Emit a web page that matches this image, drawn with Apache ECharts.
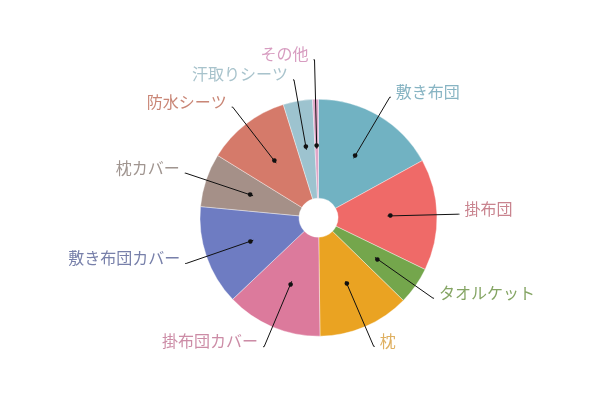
<!DOCTYPE html>
<html>
<head>
<meta charset="utf-8">
<script src="https://cdn.jsdelivr.net/npm/echarts@6/dist/echarts.min.js"></script>
<style>
html,body{margin:0;padding:0;background:#fff;}
#chart{width:603px;height:416px;}
</style>
</head>
<body>
<div id="chart"></div>
<script>
var categories = ['敷き布団','掛布団','タオルケット','枕','掛布団カバー','敷き布団カバー','枕カバー','防水シーツ','汗取りシーツ','その他'];
var values = [17.0, 15.2, 5.1, 12.5, 13.1, 13.6, 7.3, 11.4, 4.0, 0.8];
var sliceColors = ['#71b2c2','#ef6a68','#74a64c','#eaa322','#dc7a9c','#6e7cc2','#a59088','#d57a6a','#9dc3cf','#e0a6c8'];
var labelColors = ['#87b4c3','#c9848f','#85a564','#dfb061','#cc8ca6','#7880aa','#a09590','#c98676','#a8c3cc','#d79cc0'];
var lineLengths = [71, 71, 71, 71, 71, 71, 71, 71, 71, 89];

var chart = echarts.init(document.getElementById('chart'), null, {renderer:'canvas'});
var CX = 318.5, CY = 217.7, R0 = 19.5, R1 = 118.5, RM = (R0 + R1) / 2;

var mainData = categories.map(function(c, i){
  return {name: c, value: values[i], itemStyle: {color: sliceColors[i]}};
});
var overlayData = categories.map(function(c, i){
  return {
    name: c, value: values[i],
    itemStyle: {color: 'rgba(0,0,0,0)'},
    label: {rich: {n: {color: labelColors[i], fontSize: 16, lineHeight: 16,
      fontFamily: '"Noto Sans CJK JP", sans-serif'}}},
    labelLine: {length: lineLengths[i]}
  };
});

chart.setOption({
  animation: false,
  backgroundColor: '#fff',
  series: [
    {
      type: 'pie',
      center: [CX, CY],
      radius: [R0, R1],
      startAngle: 90,
      clockwise: true,
      avoidLabelOverlap: false,
      silent: true,
      itemStyle: {borderColor: 'rgba(255,255,255,0.55)', borderWidth: 0.7},
      label: {show: true, position: 'inside', formatter: '●', color: '#111', fontSize: 6, fontFamily: 'DejaVu Sans'},
      labelLine: {show: false},
      emphasis: {disabled: true},
      data: mainData,
      z: 2
    },
    {
      type: 'pie',
      center: [CX, CY],
      radius: [R0, RM],
      startAngle: 90,
      clockwise: true,
      avoidLabelOverlap: false,
      silent: true,
      label: {
        show: true, position: 'outside',
        formatter: '{n|{b}}\n{s| }',
        rich: {s: {fontSize: 2, lineHeight: 11}},
        distanceToLabelLine: 5
      },
      labelLayout: {hideOverlap: false},
      labelLine: {show: true, length: 71, length2: 1, smooth: false,
        lineStyle: {color: '#111', width: 1}},
      emphasis: {disabled: true},
      data: overlayData,
      z: 3
    }
  ]
});
</script>
</body>
</html>
